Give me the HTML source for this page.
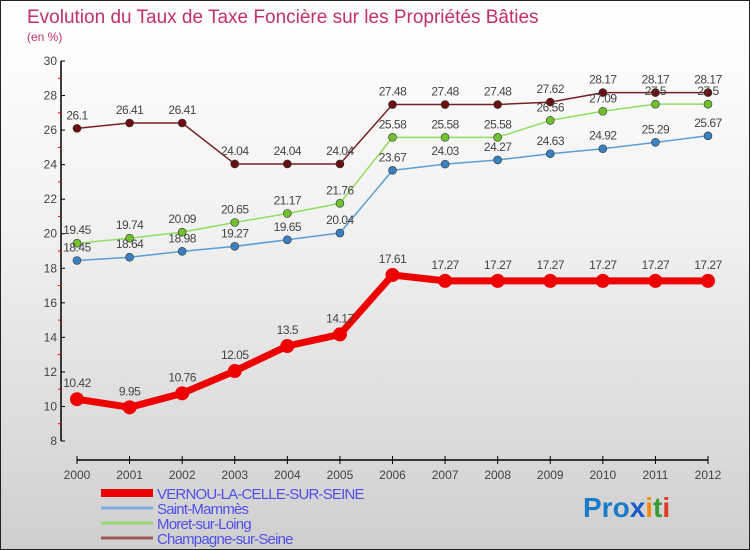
<!DOCTYPE html>
<html><head><meta charset="utf-8"><style>
body{margin:0;}
#wrap{width:750px;height:550px;position:relative;overflow:hidden;box-sizing:border-box;border:1px solid #222;background:linear-gradient(#ffffff 0%,#f2f2f2 40%,#cfcfcf 100%);font-family:"Liberation Sans",sans-serif;}
svg text{font-family:"Liberation Sans",sans-serif;}
</style></head><body>
<div id="wrap">
<svg id="chart" width="750" height="550">
<text x="26" y="22" font-size="19" fill="#c0306a">Evolution du Taux de Taxe Foncière sur les Propriétés Bâties</text>
<text x="26" y="40" font-size="12" fill="#c0306a">(en %)</text>
<g id="axes"></g><g id="series"></g>
<g id="legend"></g>
<text x="582" y="516" font-size="28" font-weight="bold"><tspan fill="#1a7cc8">Pro</tspan><tspan fill="#1a5cc8">x</tspan><tspan fill="#f08a10">i</tspan><tspan fill="#3a9a3a">t</tspan><tspan fill="#e03a20">i</tspan></text>
</svg>
</div>
<script>
const years=[2000,2001,2002,2003,2004,2005,2006,2007,2008,2009,2010,2011,2012];
const vernou=[10.42,9.95,10.76,12.05,13.5,14.17,17.61,17.27,17.27,17.27,17.27,17.27,17.27];
const saintMammes=[18.45,18.64,18.98,19.27,19.65,20.04,23.67,24.03,24.27,24.63,24.92,25.29,25.67];
const moret=[19.45,19.74,20.09,20.65,21.17,21.76,25.58,25.58,25.58,26.56,27.09,27.5,27.5];
const champagne=[26.1,26.41,26.41,24.04,24.04,24.04,27.48,27.48,27.48,27.62,28.17,28.17,28.17];
const yTicks=[8,10,12,14,16,18,20,22,24,26,28,30];
const names=["VERNOU-LA-CELLE-SUR-SEINE","Saint-Mammès","Moret-sur-Loing","Champagne-sur-Seine"];
const NS="http://www.w3.org/2000/svg";
const x=i=>76+i*(707-76)/(years.length-1);
const y=v=>440-(v-8)*(380/22);
function mk(tag,attrs,parent){const e=document.createElementNS(NS,tag);for(const k in attrs)e.setAttribute(k,attrs[k]);parent.appendChild(e);return e;}
const ax=document.getElementById('axes');
let l=mk('line',{x1:60,y1:60,x2:60,y2:440,stroke:'#000','stroke-width':1.5},ax);


yTicks.forEach(v=>{
 mk('line',{x1:60,y1:y(v),x2:64,y2:y(v),stroke:'#000'},ax);
 const t=mk('text',{x:56,y:y(v)+4,'font-size':12,'text-anchor':'end',fill:'#444'},ax);t.textContent=v;
 
 
 if(v<30) mk('line',{x1:57,y1:y(v+1),x2:60,y2:y(v+1),stroke:'#e00'},ax);
});
l=mk('line',{x1:76,y1:459,x2:707,y2:459,stroke:'#000','stroke-width':1.5},ax);


years.forEach((yr,i)=>{
 mk('line',{x1:x(i),y1:455,x2:x(i),y2:463,stroke:'#000'},ax);
 const t=mk('text',{x:x(i),y:478,'font-size':12,'text-anchor':'middle',fill:'#444'},ax);t.textContent=yr;
 
 
});
const sg=document.getElementById('series');
const defs=[
 {d:champagne,c:'#7a2020',f:'#6a1010',w:1.5,r:4,n:'champagne-sur-seine'},
 {d:moret,c:'#90dd60',f:'#70c030',w:1.5,r:4,n:'moret-sur-loing'},
 {d:saintMammes,c:'#5a9ed6',f:'#3a80c0',w:1.5,r:4,n:'saint-mammes'},
 {d:vernou,c:'#ee0000',f:'#ee0000',w:7,r:7,n:'vernou-la-celle-sur-seine'}];
defs.forEach(s=>{
 const g=mk('g',{},sg);
 
 
 const p=mk('polyline',{points:s.d.map((v,i)=>x(i)+','+y(v)).join(' '),fill:'none',stroke:s.c,'stroke-width':s.w,'stroke-linejoin':'round'},g);
 
 
 s.d.forEach((v,i)=>{
  const c=mk('circle',{cx:x(i),cy:y(v),r:s.r,fill:s.f,stroke:'#333','stroke-width':s.r>5?0:0.6},g);
  
  
  const t=mk('text',{x:x(i),y:y(v)-(s.r>5?12:9),'font-size':12,'text-anchor':'middle',fill:'#444','letter-spacing':'-0.5'},g);
  t.textContent=v;
  
  
 });
});
const lg=document.getElementById('legend');
const lc=['#ee0000','#7aaedc','#9ad870','#9a5a5a'];const lw=[8,3,3,3];
names.forEach((n,i)=>{
 const yy=492+i*15;
 const g=mk('g',{},lg);
 
 
 mk('line',{x1:100,y1:yy,x2:152,y2:yy,stroke:lc[i],'stroke-width':lw[i]},g);
 const t=mk('text',{x:156,y:yy+6,'font-size':15,fill:'#5050e8','letter-spacing':'-0.8'},g);t.textContent=n;
});
</script>
</body></html>
